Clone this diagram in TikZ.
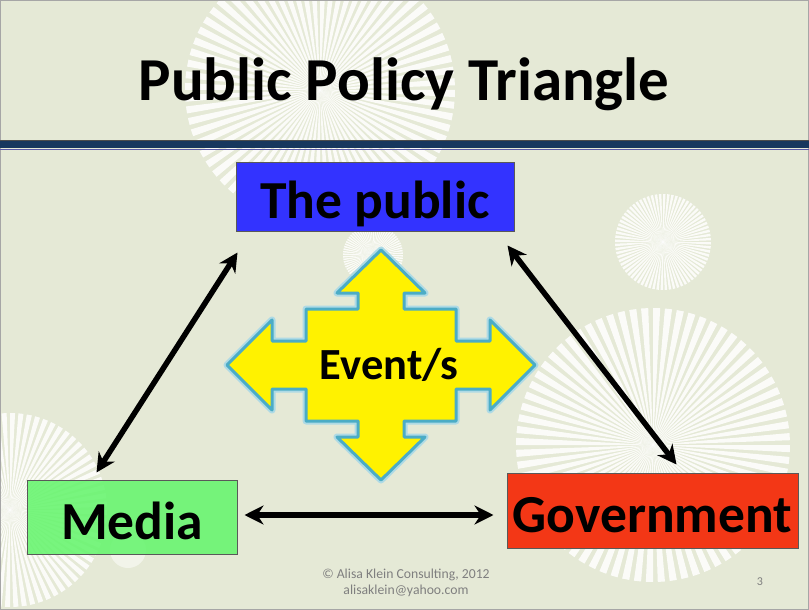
\documentclass[tikz,border=0pt]{standalone}
\usepackage{fontspec}
\setmainfont{Carlito}
\usepackage{tikz}
\usetikzlibrary{positioning, calc, arrows.meta}
\definecolor{slidebg}{HTML}{E5E9D6}
\definecolor{rulenavy}{HTML}{17375E}
\definecolor{publicblue}{HTML}{3333FF}
\definecolor{mediagreen}{HTML}{66F56E}
\definecolor{govred}{HTML}{F33716}
\definecolor{eventedge}{HTML}{4BACC6}
\definecolor{footgray}{HTML}{7F7F7F}
\tikzstyle{box} = [rectangle, draw=black!65, line width=1pt, inner sep=0pt, text height=44pt, text depth=0pt, font=\fontsize{53.5}{53.5}\selectfont\bfseries]
\tikzstyle{arrow} = [{Stealth[length=19pt,width=19pt]}-{Stealth[length=19pt,width=19pt]}, line width=5.5pt]
\tikzstyle{ray} = [fill=white, opacity=0.85]
\tikzstyle{eventshape} = [fill=yellow, draw=eventedge, line width=3pt, line join=round]
\newcommand{\sunburst}[3]{%
  \foreach \a in {0,5,...,355} {\fill[ray] (#1,#2) -- +(\a:#3) -- +(\a+3:#3) -- cycle;}}

\begin{document}
\begin{tikzpicture}[x=1pt, y=-1pt]
		% slide background
		\fill[slidebg] (0,0) rectangle (809,610);
		\useasboundingbox (0,0) rectangle (809,610);
		\sunburst{320}{90}{135}
		\sunburst{663}{242}{48}
		\sunburst{653}{445}{137}
		\sunburst{10}{510}{97}
		\sunburst{373}{255}{30}
		\fill[white, opacity=0.5] (128,550) circle (18);
		\draw[black!35, line width=0.8pt] (0.5,0.5) rectangle (808.5,609.5);
		% title and rule
		\node[font=\fontsize{61}{61}\selectfont\bfseries] (title) at (404,84) {Public Policy Triangle};
		\fill[rulenavy] (0,140) rectangle (809,148);
		\draw[black!70, line width=0.6pt] (0,140) -- (809,140);
		\draw[blue!30!gray, line width=1pt] (0,149) -- (809,149);
		% the three actors
		\node[box, fill=publicblue, minimum width=278, minimum height=69] (public) at (375,196.5) {The public};
		\node[box, fill=mediagreen, fill opacity=0.88, text opacity=1, minimum width=210, minimum height=74] (media) at (132,517) {Media};
		\node[box, fill=govred, minimum width=291, minimum height=75] (gov) at (652.5,510.5) {Government};
		% event cross
		\begin{scope}[shift={(381,365)}]
			\draw[eventshape, draw=eventedge!45, line width=7pt] (0,-115) -- (44,-72) -- (23,-72) -- (23,-56) -- (75,-56) -- (75,-24) -- (109,-24) -- (109,-45) -- (154,0) -- (109,45) -- (109,24) -- (75,24) -- (75,56) -- (23,56) -- (23,72) -- (44,72) -- (0,115) -- (-44,72) -- (-23,72) -- (-23,56) -- (-75,56) -- (-75,24) -- (-109,24) -- (-109,45) -- (-154,0) -- (-109,-45) -- (-109,-24) -- (-75,-24) -- (-75,-56) -- (-23,-56) -- (-23,-72) -- (-44,-72) -- cycle;
			\draw[eventshape] (0,-115) -- (44,-72) -- (23,-72) -- (23,-56) -- (75,-56) -- (75,-24) -- (109,-24) -- (109,-45) -- (154,0) -- (109,45) -- (109,24) -- (75,24) -- (75,56) -- (23,56) -- (23,72) -- (44,72) -- (0,115) -- (-44,72) -- (-23,72) -- (-23,56) -- (-75,56) -- (-75,24) -- (-109,24) -- (-109,45) -- (-154,0) -- (-109,-45) -- (-109,-24) -- (-75,-24) -- (-75,-56) -- (-23,-56) -- (-23,-72) -- (-44,-72) -- cycle;
		\end{scope}
		\node[font=\fontsize{44.5}{44.5}\selectfont\bfseries] (event) at (389,365) {Event/s};
		% connectors
		\draw[arrow] ($(public.south west)+(2,21)$) -- ($(media.north west)+(70,-7)$);
		\draw[arrow] ($(public.south east)+(-7,14)$) -- ($(gov.north west)+(170,-8)$);
		\draw[arrow] ($(media.east)+(7,-2)$) -- ($(gov.west)+(-13,4.5)$);
		% footer
		\node[text=footgray, font=\fontsize{13.7}{16}\selectfont, align=center] (credit) at (406,583) {© Alisa Klein Consulting, 2012\\alisaklein@yahoo.com};
		\node[text=footgray, font=\fontsize{12}{12}\selectfont] (page) at (760,582) {3};
	\end{tikzpicture}
\end{document}
